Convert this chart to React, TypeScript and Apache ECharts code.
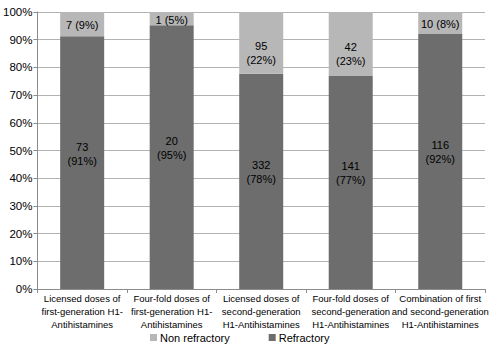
import React, { useEffect, useRef } from "react";
import * as echarts from "echarts";

const categories = [
  "Licensed doses of\nfirst-generation H1-\nAntihistamines",
  "Four-fold doses of\nfirst-generation H1-\nAntihistamines",
  "Licensed doses of\nsecond-generation\nH1-Antihistamines",
  "Four-fold doses of\nsecond-generation\nH1-Antihistamines",
  "Combination of first\nand second-generation\nH1-Antihistamines",
];
const refractoryCounts = [73, 20, 332, 141, 116];
const nonRefractoryCounts = [7, 1, 95, 42, 10];
const yTicks = [0, 10, 20, 30, 40, 50, 60, 70, 80, 90, 100];

export default function App() {
  const ref = useRef<HTMLDivElement>(null);
  useEffect(() => {
    if (!ref.current) return;
    const chart = echarts.init(ref.current, undefined, { renderer: "svg" });
    const totals = refractoryCounts.map((r, i) => r + nonRefractoryCounts[i]);
    const refData = refractoryCounts.map((r, i) => {
      const pct = (r / totals[i]) * 100;
      return {
        value: pct,
        label: {
          formatter: `${r}\n(${Math.round(pct)}%)`,
        },
      };
    });
    const nonData = nonRefractoryCounts.map((n, i) => {
      const pct = (n / totals[i]) * 100;
      const small = pct < 15;
      return {
        value: pct,
        label: {
          formatter: small ? `${n} (${Math.round(pct)}%)` : `${n}\n(${Math.round(pct)}%)`,
          offset: small ? [0, 1] : [0, 10],
        },
      };
    });
    const font = "'Liberation Sans', Arial, sans-serif";
    chart.setOption({
      animation: false,
      backgroundColor: "#ffffff",
      textStyle: { fontFamily: font },
      grid: { left: 37, right: 14, top: 12, bottom: 57, containLabel: false },
      legend: {
        data: ["Non refractory", "Refractory"],
        left: 145,
        top: 327,
        itemWidth: 7,
        itemHeight: 7,
        itemGap: 39,
        icon: "rect",
        textStyle: { fontSize: 11, color: "#000", fontFamily: font, padding: [0, 0, 0, -2] },
      },
      xAxis: {
        type: "category",
        data: categories,
        axisLine: { lineStyle: { color: "#8c8c8c" } },
        axisTick: { show: true, length: 4, lineStyle: { color: "#8c8c8c" }, alignWithLabel: false },
        axisLabel: {
          color: "#000",
          fontSize: 9.5,
          lineHeight: 13,
          margin: 3,
          interval: 0,
          fontFamily: font,
        },
      },
      yAxis: {
        type: "value",
        min: yTicks[0],
        max: yTicks[yTicks.length - 1],
        interval: 10,
        axisLine: { show: true, lineStyle: { color: "#8c8c8c" } },
        axisTick: { show: true, length: 4, lineStyle: { color: "#8c8c8c" } },
        splitLine: { lineStyle: { color: "#b3b3b3", width: 1 } },
        axisLabel: {
          formatter: "{value}%",
          color: "#000",
          fontSize: 11.5,
          margin: 5,
          fontFamily: font,
        },
      },
      series: [
        {
          name: "Refractory",
          type: "bar",
          stack: "total",
          barWidth: 44,
          data: refData,
          itemStyle: { color: "#6d6d6d" },
          label: {
            show: true,
            position: "inside",
            color: "#000",
            fontSize: 11,
            lineHeight: 14,
            offset: [0, -9],
            fontFamily: font,
          },
        },
        {
          name: "Non refractory",
          type: "bar",
          stack: "total",
          barWidth: 44,
          data: nonData,
          itemStyle: { color: "#b7b7b7" },
          label: {
            show: true,
            position: "inside",
            color: "#000",
            fontSize: 11,
            lineHeight: 14,
            fontFamily: font,
          },
        },
      ],
    });
    return () => chart.dispose();
  }, []);
  return <div ref={ref} style={{ width: 499, height: 346, position: "absolute", left: 0, top: 0 }} />;
}
